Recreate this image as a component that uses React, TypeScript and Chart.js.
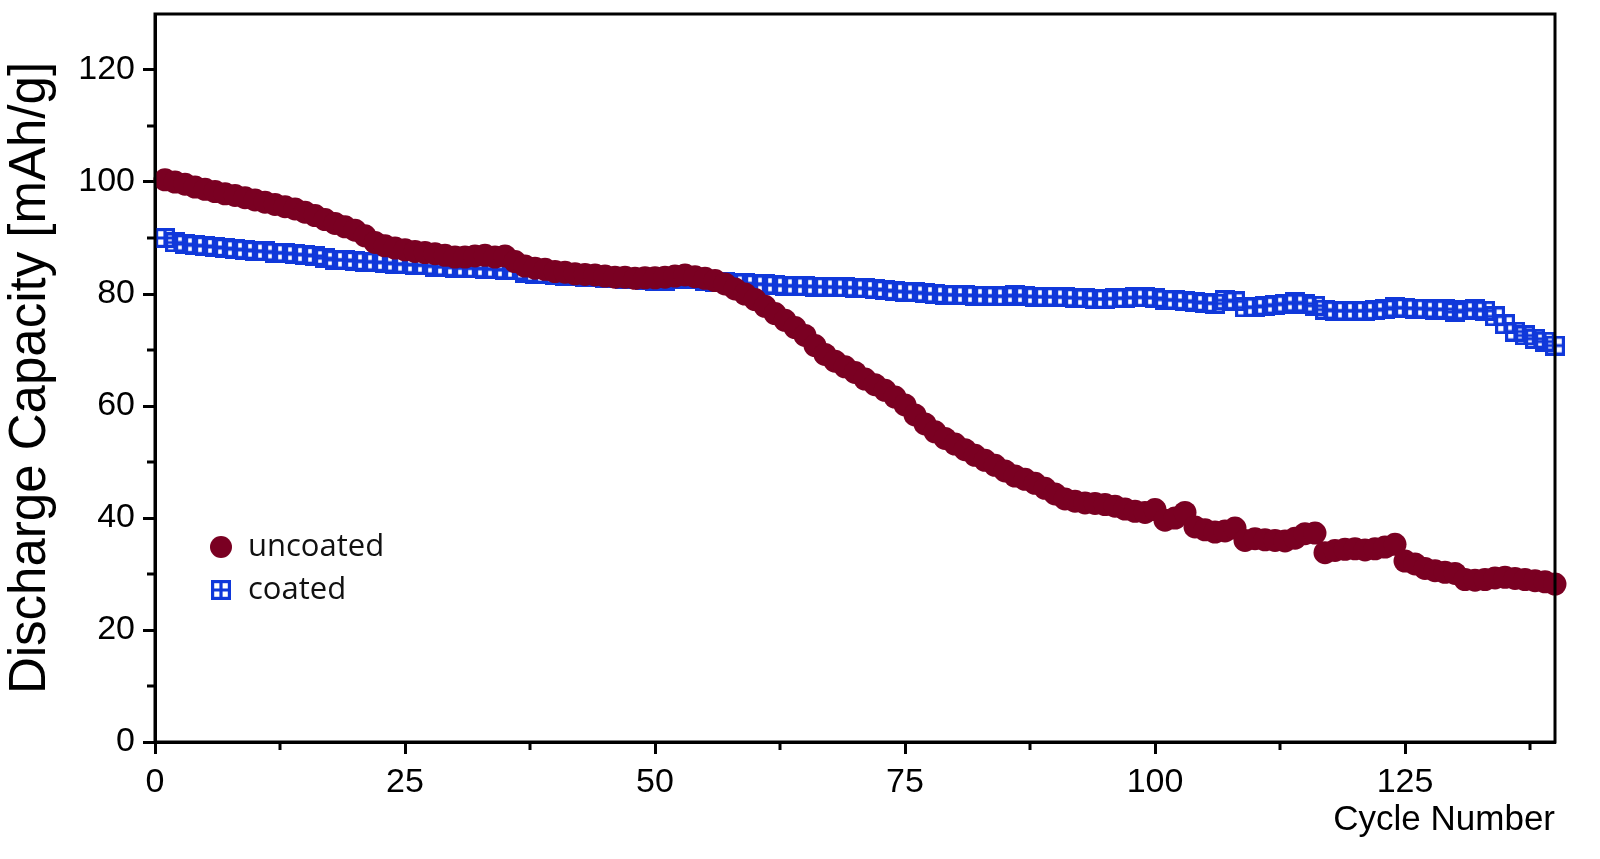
import { useEffect, useRef } from 'react';
import { Chart, registerables } from 'chart.js';

Chart.register(...registerables);

// cycle numbers 1..140
const cycles = Array.from({ length: 140 }, (_, i) => i + 1);

const uncoated = [
  100.4, 100.0, 99.6, 99.1, 98.7, 98.3, 97.9, 97.6, 97.2, 96.8,
  96.4, 96.0, 95.6, 95.2, 94.6, 94.0, 93.3, 92.6, 92.0, 91.4,
  90.4, 89.2, 88.6, 88.2, 87.9, 87.6, 87.4, 87.2, 86.9, 86.6,
  86.6, 86.8, 86.9, 86.6, 86.8, 85.8, 85.0, 84.6, 84.4, 84.0,
  83.9, 83.6, 83.5, 83.4, 83.2, 83.0, 83.0, 82.8, 82.9, 82.9,
  83.0, 83.2, 83.4, 83.1, 82.8, 82.4, 81.8, 80.9, 80.0, 79.0,
  77.8, 76.5, 75.3, 74.0, 72.6, 70.8, 69.2, 68.0, 67.0, 66.0,
  64.8, 63.8, 62.8, 61.6, 60.2, 58.4, 56.8, 55.4, 54.2, 53.2,
  52.2, 51.2, 50.3, 49.4, 48.4, 47.5, 46.9, 46.2, 45.3, 44.3,
  43.4, 43.0, 42.7, 42.6, 42.4, 42.1, 41.6, 41.2, 41.0, 41.5,
  39.6, 40.0, 41.0, 38.4, 37.9, 37.5, 37.7, 38.2, 36.0, 36.3,
  36.1, 36.0, 35.9, 36.4, 37.2, 37.3, 33.8, 34.2, 34.4, 34.5,
  34.3, 34.5, 34.8, 35.3, 32.3, 31.8, 31.0, 30.6, 30.3, 30.1,
  29.0, 28.9, 29.0, 29.3, 29.4, 29.2, 29.0, 28.8, 28.6, 28.2,
];

const coated = [
  90.0, 89.2, 88.9, 88.7, 88.6, 88.4, 88.2, 88.0, 87.9, 87.7,
  87.6, 87.4, 87.3, 87.1, 87.0, 86.8, 86.4, 86.1, 86.1, 85.9,
  85.8, 85.7, 85.6, 85.4, 85.3, 85.2, 85.1, 84.9, 84.8, 84.7,
  84.6, 84.6, 84.5, 84.4, 84.3, 84.2, 83.8, 83.6, 83.5, 83.4,
  83.3, 83.2, 83.1, 83.0, 82.9, 82.8, 82.7, 82.6, 82.5, 82.4,
  82.4, 82.6, 82.9, 82.7, 82.4, 82.2, 82.1, 82.0, 81.9, 81.8,
  81.7, 81.6, 81.5, 81.4, 81.4, 81.3, 81.3, 81.2, 81.2, 81.1,
  81.0, 80.9, 80.7, 80.5, 80.4, 80.3, 80.1, 80.0, 79.9, 79.8,
  79.8, 79.7, 79.7, 79.6, 79.6, 79.8, 79.6, 79.5, 79.5, 79.5,
  79.4, 79.3, 79.2, 79.1, 79.1, 79.2, 79.3, 79.4, 79.4, 79.3,
  79.0, 78.9, 78.8, 78.6, 78.4, 78.3, 78.9, 78.7, 77.6, 77.7,
  77.9, 78.1, 78.3, 78.5, 78.3, 77.9, 77.2, 77.0, 77.0, 77.0,
  77.0, 77.1, 77.3, 77.6, 77.5, 77.4, 77.4, 77.2, 77.3, 76.8,
  77.1, 77.3, 77.0, 76.0, 74.6, 73.3, 72.6, 72.0, 71.5, 70.8,
];

const xMinorTicks = [12.5, 37.5, 62.5, 87.5, 112.5, 137.5];
const yMinorTicks = [10, 30, 50, 70, 90, 110];

const RED = '#7a0022';
const BLUE = '#1038da';

// square with a cross inside, like the original marker
function makeBoxMarker(size: number) {
  const c = document.createElement('canvas');
  c.width = size;
  c.height = size;
  const ctx = c.getContext('2d')!;
  ctx.strokeStyle = BLUE;
  ctx.lineWidth = 3.2;
  ctx.strokeRect(1.6, 1.6, size - 3.2, size - 3.2);
  ctx.beginPath();
  ctx.moveTo(size / 2, 1);
  ctx.lineTo(size / 2, size - 1);
  ctx.moveTo(1, size / 2);
  ctx.lineTo(size - 1, size / 2);
  ctx.stroke();
  return c;
}

const framePlugin = {
  id: 'frame',
  afterDraw(chart: any) {
    const { ctx, chartArea, scales } = chart;
    ctx.save();
    ctx.strokeStyle = '#000';
    ctx.lineWidth = 3;
    ctx.strokeRect(chartArea.left, chartArea.top, chartArea.right - chartArea.left, chartArea.bottom - chartArea.top);
    ctx.beginPath();
    xMinorTicks.forEach((v) => {
      const px = scales.x.getPixelForValue(v);
      ctx.moveTo(px, chartArea.bottom);
      ctx.lineTo(px, chartArea.bottom + 8);
    });
    yMinorTicks.forEach((v) => {
      const py = scales.y.getPixelForValue(v);
      ctx.moveTo(chartArea.left, py);
      ctx.lineTo(chartArea.left - 8, py);
    });
    ctx.stroke();
    ctx.restore();
  },
};

const legendPlugin = {
  id: 'insideLegend',
  afterDraw(chart: any) {
    const { ctx, chartArea, scales } = chart;
    ctx.save();
    ctx.font = '31px "Open Sans", sans-serif';
    ctx.textBaseline = 'middle';
    const x0 = chartArea.left + 66;
    let y = scales.y.getPixelForValue(0) - 195;
    chart.data.datasets.forEach((ds: any) => {
      if (typeof ds.pointStyle === 'string') {
        ctx.fillStyle = ds.backgroundColor;
        ctx.beginPath();
        ctx.arc(x0, y, 11, 0, Math.PI * 2);
        ctx.fill();
      } else {
        const img = ds.pointStyle;
        ctx.drawImage(img, x0 - img.width / 2, y - img.height / 2);
      }
      ctx.fillStyle = '#111';
      ctx.fillText(ds.label, x0 + 27, y);
      y += 43;
    });
    ctx.restore();
  },
};

export default function App() {
  const canvasRef = useRef<HTMLCanvasElement | null>(null);

  useEffect(() => {
    if (!canvasRef.current) return;
    Chart.defaults.font.family = '"Liberation Sans", Arial, sans-serif';
    Chart.defaults.color = '#000';

    const chart = new Chart(canvasRef.current, {
      type: 'scatter',
      data: {
        datasets: [
          {
            label: 'uncoated',
            data: cycles.map((c, i) => ({ x: c, y: uncoated[i] })),
            pointStyle: 'circle',
            pointRadius: 11.5,
            backgroundColor: RED,
            borderColor: RED,
            borderWidth: 0,
            clip: false,
          },
          {
            label: 'coated',
            data: cycles.map((c, i) => ({ x: c, y: coated[i] })),
            pointStyle: makeBoxMarker(20),
            pointRadius: 10,
            backgroundColor: BLUE,
            borderColor: BLUE,
            clip: false,
          },
        ],
      },
      options: {
        animation: false,
        responsive: true,
        maintainAspectRatio: false,
        layout: { padding: { top: 14, right: 45, left: 0, bottom: 0 } },
        plugins: { legend: { display: false }, tooltip: { enabled: false } },
        scales: {
          x: {
            type: 'linear',
            min: 0,
            max: 140,
            afterFit: (s: any) => {
              s.height = 117;
              s.paddingLeft = 0;
              s.paddingRight = 0;
            },
            border: { color: '#000', width: 3 },
            grid: { drawOnChartArea: false, tickLength: 12, tickWidth: 3, tickColor: '#000' },
            ticks: { stepSize: 25, includeBounds: false, padding: 8, maxRotation: 0, font: { size: 34 } },
            title: {
              display: true,
              text: 'Cycle Number',
              align: 'end',
              font: { size: 35 },
              padding: { top: 0, bottom: 18 },
            },
          },
          y: {
            min: 0,
            max: 130,
            afterFit: (s: any) => {
              s.width = 155;
              s.paddingTop = 0;
              s.paddingBottom = 0;
            },
            border: { color: '#000', width: 3 },
            grid: { drawOnChartArea: false, tickLength: 12, tickWidth: 3, tickColor: '#000' },
            ticks: { stepSize: 20, includeBounds: false, padding: 8, font: { size: 34 } },
            title: {
              display: true,
              text: 'Discharge Capacity [mAh/g]',
              font: { size: 51 },
              padding: { top: 0, bottom: 0 },
            },
          },
        },
      },
      plugins: [framePlugin, legendPlugin],
    });

    return () => chart.destroy();
  }, []);

  return (
    <div style={{ position: 'fixed', left: 0, top: 0, width: 1600, height: 859, background: '#fff' }}>
      <canvas ref={canvasRef} />
    </div>
  );
}
